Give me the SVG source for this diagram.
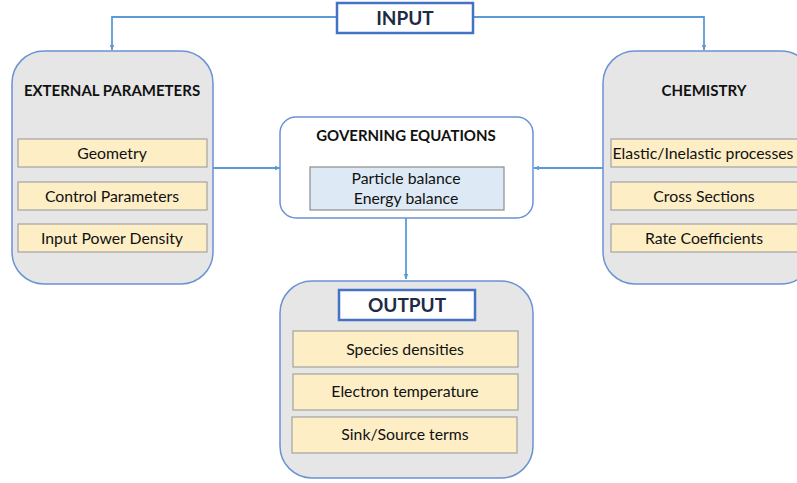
<svg xmlns="http://www.w3.org/2000/svg" width="797" height="483" viewBox="0 0 797 483">
<defs>
<marker id="arr" viewBox="0 0 10 10" refX="9" refY="5" markerWidth="6" markerHeight="6" orient="auto" markerUnits="userSpaceOnUse">
<path d="M0,1 L10,5 L0,9 Z" fill="#5b9bd5"/>
</marker>
<style>
text{font-family:Lato,"Open Sans","Liberation Sans",sans-serif;fill:#111;text-anchor:middle}
.grp{fill:#e6e6e6;stroke:#6a93d4;stroke-width:1.5}
.gov{fill:#ffffff;stroke:#6a93d4;stroke-width:1.5}
.item{fill:#fdeec6;stroke:#a3a3a3;stroke-width:1.2}
.eq{fill:#dde9f5;stroke:#8c8c8c;stroke-width:1.2}
.lbl{fill:#ffffff;stroke:#4472c4;stroke-width:2.5}
.title{font-weight:bold;font-size:15px}
.big{font-weight:bold;font-size:19px;fill:#1d2b45}
.it{font-size:15.8px}
.conn{fill:none;stroke:#5b9bd5;stroke-width:1.8}
</style>
</defs>
<g id="connectors">
<path class="conn" d="M337,17 H112 V50" marker-end="url(#arr)"/>
<path class="conn" d="M473,17 H704 V50" marker-end="url(#arr)"/>
<path class="conn" d="M213,168 H280" marker-end="url(#arr)"/>
<path class="conn" d="M603,168 H534" marker-end="url(#arr)"/>
<path class="conn" d="M406,218 V279" marker-end="url(#arr)"/>
</g>
<g id="input">
<rect class="lbl" x="337" y="3" width="136" height="30"/>
<text class="big" x="405" y="25">INPUT</text>
</g>
<g id="external">
<rect class="grp" x="12" y="51" width="201" height="233" rx="32"/>
<text class="title" x="112" y="96">EXTERNAL PARAMETERS</text>
<rect class="item" x="18" y="139" width="189" height="28"/>
<text class="it" x="112" y="159">Geometry</text>
<rect class="item" x="18" y="182" width="189" height="28"/>
<text class="it" x="112" y="202">Control Parameters</text>
<rect class="item" x="18" y="224" width="189" height="28"/>
<text class="it" x="112" y="244">Input Power Density</text>
</g>
<g id="chemistry">
<rect class="grp" x="603" y="51" width="210" height="233" rx="32"/>
<text class="title" x="704" y="96">CHEMISTRY</text>
<rect class="item" x="611" y="139" width="200" height="28"/>
<text class="it" x="703" y="159">Elastic/Inelastic processes</text>
<rect class="item" x="611" y="182" width="200" height="28"/>
<text class="it" x="704" y="202">Cross Sections</text>
<rect class="item" x="611" y="224" width="200" height="28"/>
<text class="it" x="704" y="244">Rate Coefficients</text>
</g>
<g id="governing">
<rect class="gov" x="280" y="117" width="253" height="101" rx="16"/>
<text class="title" x="406" y="141">GOVERNING EQUATIONS</text>
<rect class="eq" x="310" y="167" width="194" height="43"/>
<text class="it" x="406" y="184">Particle balance</text>
<text class="it" x="406" y="204">Energy balance</text>
</g>
<g id="output">
<rect class="grp" x="280" y="281" width="253" height="197" rx="32"/>
<rect class="lbl" x="339" y="290" width="136" height="30"/>
<text class="big" x="407" y="312">OUTPUT</text>
<rect class="item" x="293" y="331" width="225" height="36"/>
<text class="it" x="405" y="355">Species densities</text>
<rect class="item" x="293" y="374" width="225" height="36"/>
<text class="it" x="405" y="397">Electron temperature</text>
<rect class="item" x="292" y="417" width="225" height="36"/>
<text class="it" x="405" y="440">Sink/Source terms</text>
</g>
</svg>
